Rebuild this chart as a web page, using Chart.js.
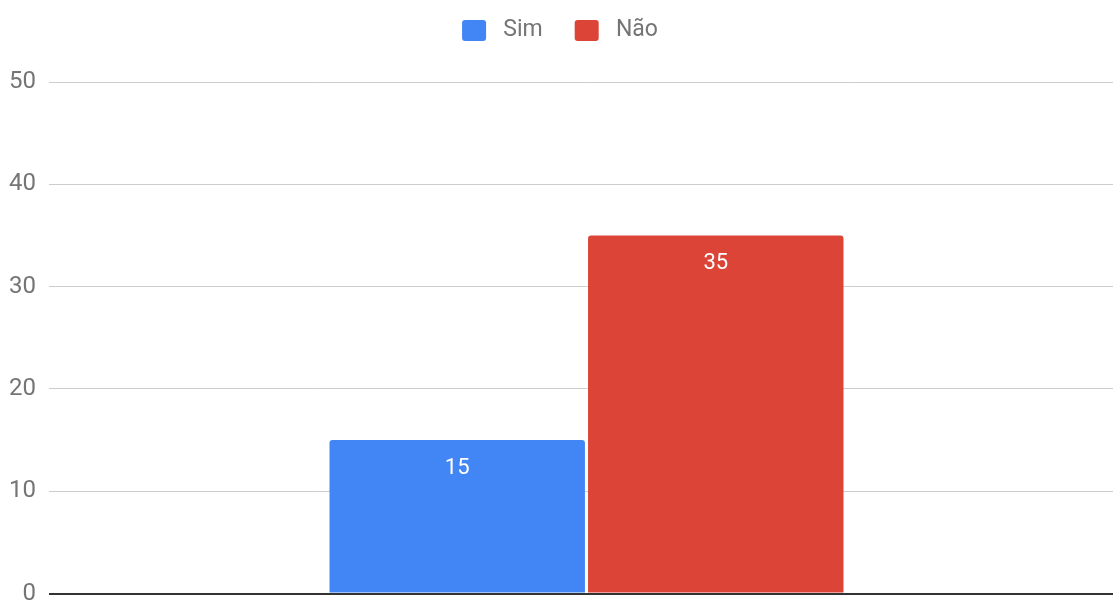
<!DOCTYPE html>
<html>
<head>
<meta charset="utf-8">
<script src="https://cdn.jsdelivr.net/npm/chart.js@4"></script>
<style>
  html, body { margin: 0; padding: 0; overflow: hidden; background: #fff; }
  #wrap { width: 1124px; height: 621px; }
</style>
</head>
<body>
<div id="wrap"><canvas id="chart" width="1124" height="621"></canvas></div>
<script>
const categories = [""];
const simValues = [15];
const naoValues = [35];
const yTicks = [0, 10, 20, 30, 40, 50];

// white value labels just below the top of every bar
const barValueLabels = {
  id: "barValueLabels",
  afterDatasetsDraw(chart) {
    const ctx = chart.ctx;
    ctx.save();
    ctx.fillStyle = "#ffffff";
    ctx.font = "22px Roboto";
    ctx.textAlign = "center";
    ctx.textBaseline = "middle";
    chart.data.datasets.forEach((ds, i) => {
      chart.getDatasetMeta(i).data.forEach((bar, j) => {
        ctx.fillText(String(ds.data[j]), bar.x, bar.y + 28);
      });
    });
    ctx.restore();
  },
};

// extra room under the legend
const legendGap = {
  id: "legendGap",
  beforeInit(chart) {
    const fit = chart.legend.fit;
    chart.legend.fit = function () {
      fit.call(this);
      this.height += 30;
    };
  },
};

const chart = new Chart(document.getElementById("chart"), {
  type: "bar",
  data: {
    labels: categories,
    datasets: [
      {
        label: "Sim",
        data: simValues,
        backgroundColor: "#4285F4",
        borderRadius: 3,
        borderSkipped: "bottom",
      },
      {
        label: "Não",
        data: naoValues,
        backgroundColor: "#DB4437",
        borderRadius: 3,
        borderSkipped: "bottom",
      },
    ],
  },
  options: {
    responsive: false,
    animation: false,
    categoryPercentage: 0.481,
    barPercentage: 0.988,
    layout: { padding: { top: -13, left: -4 } },
    plugins: {
      legend: {
        position: "top",
        labels: {
          font: { family: "Roboto", size: 23 },
          color: "#757575",
          boxWidth: 24,
          boxHeight: 21,
          padding: 32,
          useBorderRadius: true,
          generateLabels(chart) {
            return chart.data.datasets.map((ds, i) => ({
              text: " " + ds.label,
              fillStyle: ds.backgroundColor,
              strokeStyle: ds.backgroundColor,
              lineWidth: 0,
              borderRadius: 3,
              fontColor: "#757575",
              datasetIndex: i,
            }));
          },
        },
      },
      tooltip: { enabled: false },
    },
    scales: {
      x: {
        display: false,
      },
      y: {
        min: yTicks[0],
        max: yTicks[yTicks.length - 1],
        afterBuildTicks(scale) {
          scale.ticks = yTicks.map((v) => ({ value: v }));
        },
        border: { display: false },
        grid: {
          drawTicks: false,
          color: (c) => (c.tick && c.tick.value === 0 ? "#333333" : "#cccccc"),
          lineWidth: (c) => (c.tick && c.tick.value === 0 ? 2 : 1),
        },
        ticks: {
          padding: 13,
          color: "#757575",
          font: { family: "Roboto", size: 24 },
        },
      },
    },
  },
  plugins: [barValueLabels, legendGap],
});
</script>
</body>
</html>
